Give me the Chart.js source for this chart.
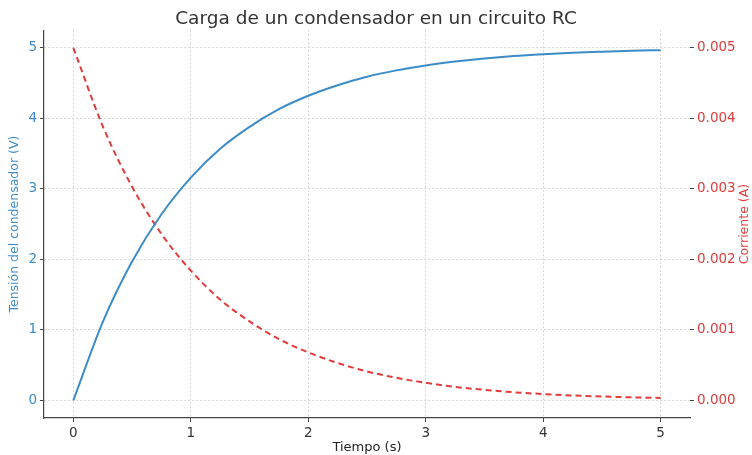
<!DOCTYPE html>
<html>
<head>
<meta charset="utf-8">
<script src="https://cdn.jsdelivr.net/npm/chart.js@4/dist/chart.umd.min.js"></script>
<style>
  html, body { margin: 0; padding: 0; background: #fff; }
  #wrap { width: 752px; height: 455px; position: relative; }
</style>
</head>
<body>
<div id="wrap"><canvas id="rc-chart"></canvas></div>
<script>
// values
const tiempo    = [0, 0.25, 0.5, 0.75, 1, 1.25, 1.5, 1.75, 2, 2.25, 2.5, 2.75, 3, 3.25, 3.5, 3.75, 4, 4.25, 4.5, 4.75, 5];
const tension   = [0, 1.11, 1.97, 2.64, 3.16, 3.57, 3.88, 4.13, 4.32, 4.47, 4.59, 4.68, 4.75, 4.805, 4.85, 4.885, 4.91, 4.93, 4.945, 4.958, 4.967];
const corriente = [0.0050, 0.00389, 0.00303, 0.00236, 0.00184, 0.00143, 0.00112, 0.00087, 0.00068, 0.00053, 0.00041,
                   0.00032, 0.00025, 0.00019, 0.00015, 0.000115, 0.00009, 0.00007, 0.000055, 0.000043, 0.000034];
const xTicks  = [0, 1, 2, 3, 4, 5];
const vTicks  = [0, 1, 2, 3, 4, 5];
const iTicks  = [0, 0.001, 0.002, 0.003, 0.004, 0.005];

const BLUE = '#3d8cc8';
const RED  = '#e03c3c';
const FONT = 'DejaVu Sans';

const fixTicks = list => scale => { scale.ticks = list.map(v => ({ value: v })); };

// right axis title reads bottom-to-top like the original
const rightTitle = {
  id: 'rightTitle',
  afterDraw(chart) {
    const { ctx, chartArea } = chart;
    ctx.save();
    ctx.translate(745, (chartArea.top + chartArea.bottom) / 2);
    ctx.rotate(-Math.PI / 2);
    ctx.font = `12.5px "${FONT}"`;
    ctx.fillStyle = RED;
    ctx.textAlign = 'center';
    ctx.textBaseline = 'middle';
    ctx.fillText('Corriente (A)', 0, 0);
    ctx.restore();
  },
};

const ctx = document.getElementById('rc-chart').getContext('2d');

new Chart(ctx, {
  type: 'line',
  data: {
    datasets: [
      {
        label: 'Tensión',
        data: tiempo.map((t, i) => ({ x: t, y: tension[i] })),
        yAxisID: 'y',
        borderColor: BLUE,
        borderWidth: 2,
        pointRadius: 0,
        cubicInterpolationMode: 'monotone',
        fill: false,
      },
      {
        label: 'Corriente',
        data: tiempo.map((t, i) => ({ x: t, y: corriente[i] })),
        yAxisID: 'y2',
        borderColor: RED,
        borderWidth: 2,
        borderDash: [6, 4],
        pointRadius: 0,
        cubicInterpolationMode: 'monotone',
        fill: false,
      },
    ],
  },
  options: {
    responsive: true,
    maintainAspectRatio: false,
    animation: false,
    layout: { padding: 0 },
    plugins: {
      legend:  { display: false },
      tooltip: { enabled: false },
      title: {
        display: true,
        text: 'Carga de un condensador en un circuito RC',
        color: '#333',
        font: { family: FONT, size: 18.5, weight: 'normal' },
        padding: { top: 8, bottom: 0 },
      },
    },
    scales: {
      x: {
        type: 'linear',
        min: -0.25,
        max: 5.25,
        afterBuildTicks: fixTicks(xTicks),
        afterFit: s => { s.height = 37; },
        grid:   { color: '#d6d6d6', tickColor: '#444', tickLength: 4 },
        border: { display: true, color: '#444', width: 1.2, dash: [2, 2] },
        ticks:  { color: '#333', padding: 3, font: { family: FONT, size: 13.5 }, maxRotation: 0 },
        title:  { display: true, text: 'Tiempo (s)', color: '#222', font: { family: FONT, size: 13 }, padding: 0 },
      },
      y: {
        position: 'left',
        min: -0.25,
        max: 5.25,
        afterBuildTicks: fixTicks(vTicks),
        afterFit: s => { s.width = 44; },
        grid:   { color: '#d6d6d6', tickColor: '#444', tickLength: 4 },
        border: { display: true, color: '#444', width: 1.2, dash: [2, 2] },
        ticks:  { color: BLUE, padding: 3, font: { family: FONT, size: 13.5 } },
        title:  { display: true, text: 'Tensión del condensador (V)', color: BLUE, font: { family: FONT, size: 12.5 }, padding: { top: 7, bottom: 0 } },
      },
      y2: {
        position: 'right',
        min: -0.00025,
        max: 0.00525,
        afterBuildTicks: fixTicks(iTicks),
        afterFit: s => { s.width = 62; },
        grid:   { drawOnChartArea: false, tickColor: '#444', tickLength: 4 },
        border: { display: false },
        ticks:  { color: RED, padding: 3, font: { family: FONT, size: 13.5 }, callback: v => v.toFixed(3) },
      },
    },
  },
  plugins: [rightTitle],
});
</script>
</body>
</html>
